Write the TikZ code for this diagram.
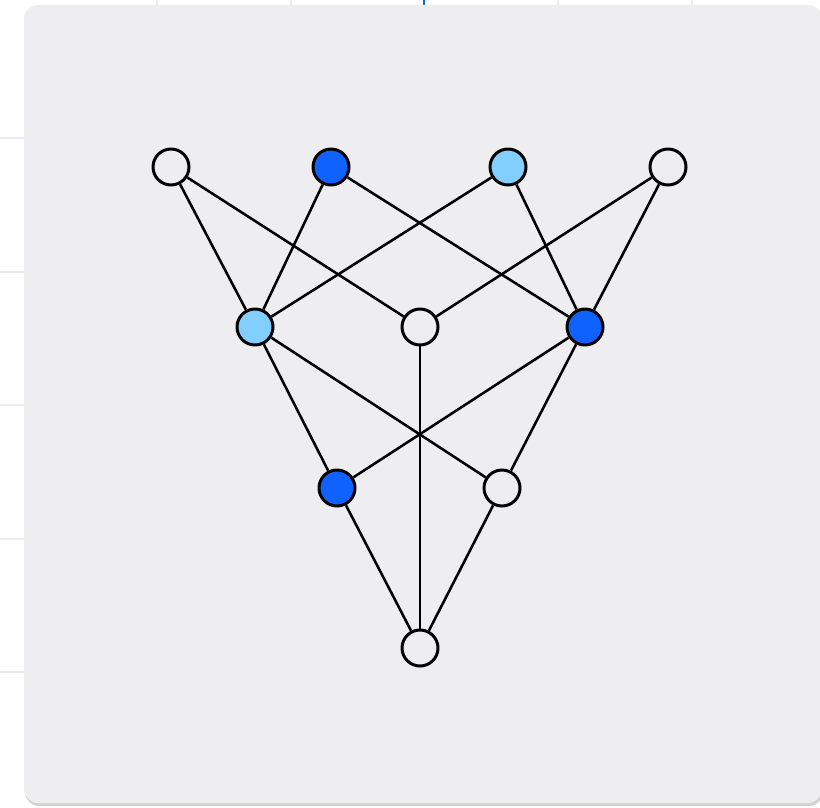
\documentclass[tikz,border=0pt]{standalone}
\usepackage{tikz}
\usepackage{xcolor}
\definecolor{panelgray}{HTML}{EEEEF1}
\definecolor{gridgray}{HTML}{EBEBEE}
\definecolor{deepblue}{HTML}{0F62FE}
\definecolor{skyblue}{HTML}{82CFFF}

\begin{document}
\begin{tikzpicture}[x=0.02cm, y=-0.02cm,
    vtx/.style={circle, draw=black, line width=1.7pt, minimum size=0.72cm, inner sep=0pt, fill=panelgray},
    dark/.style={vtx, fill=deepblue},
    light/.style={vtx, fill=skyblue},
    edge/.style={line width=1.45pt, black}]

    % 1. Page and the panel behind the graph
    \useasboundingbox (0,0) rectangle (820,807);
    \fill[white] (0,0) rectangle (820,807);
    \foreach \y in {138, 272, 405, 539, 672}
        \draw[gridgray, line width=0.6pt] (0,\y) -- (24,\y);
    \foreach \x in {157, 291, 558, 692}
        \draw[gridgray, line width=0.6pt] (\x,0) -- (\x,5);
    \draw[deepblue, line width=1.2pt] (424,0) -- (424,5);
    \fill[gray!35, rounded corners=8pt] (25,6) rectangle (823,806);
    \fill[panelgray, rounded corners=8pt] (24,5) rectangle (822,803);

    % 2. Place the vertices, row by row
    \node[vtx]   (a1) at (171,167) {};
    \node[dark]  (a2) at (331,167) {};
    \node[light] (a3) at (508,167) {};
    \node[vtx]   (a4) at (668,167) {};

    \node[light] (b1) at (255,327) {};
    \node[vtx]   (b2) at (420,327) {};
    \node[dark]  (b3) at (585,327) {};

    \node[dark]  (c1) at (337,488) {};
    \node[vtx]   (c2) at (502,488) {};

    \node[vtx]   (d1) at (420,648) {};

    % 3. Draw the edges between the rows
    \draw[edge] (a1) -- (b1);
    \draw[edge] (a1) -- (b2);
    \draw[edge] (a2) -- (b1);
    \draw[edge] (a2) -- (b3);
    \draw[edge] (a3) -- (b1);
    \draw[edge] (a3) -- (b3);
    \draw[edge] (a4) -- (b2);
    \draw[edge] (a4) -- (b3);

    \draw[edge] (b1) -- (c1);
    \draw[edge] (b1) -- (c2);
    \draw[edge] (b3) -- (c1);
    \draw[edge] (b3) -- (c2);
    \draw[edge] (b2) -- (d1);

    \draw[edge] (c1) -- (d1);
    \draw[edge] (c2) -- (d1);

\end{tikzpicture}
\end{document}
